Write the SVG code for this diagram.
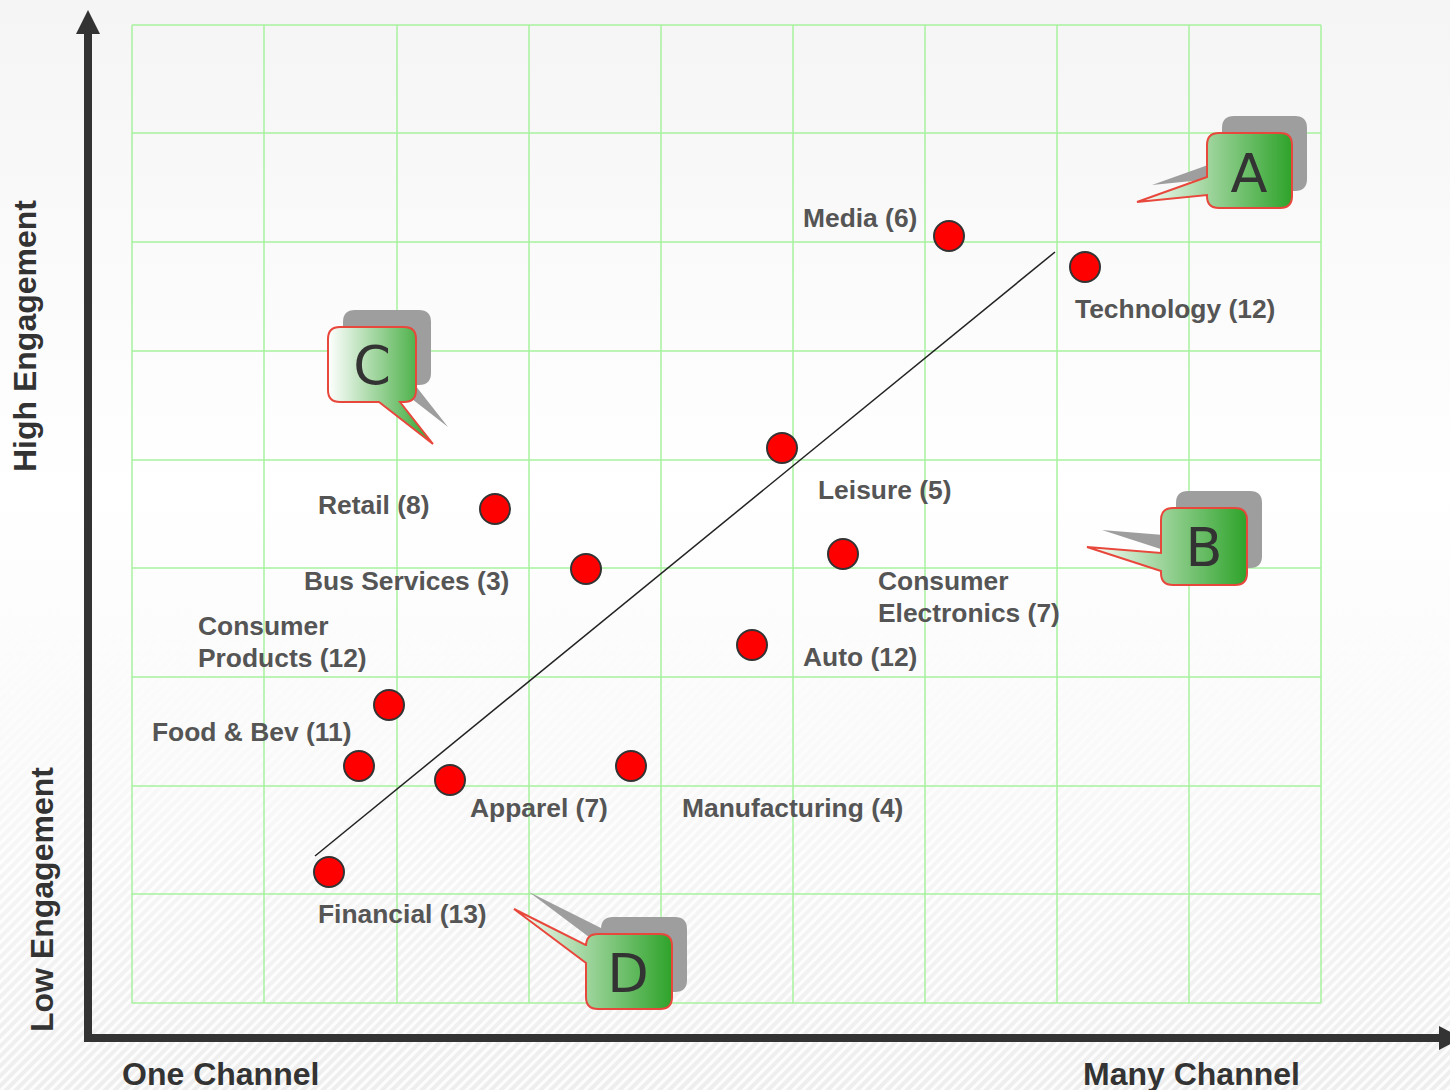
<svg xmlns="http://www.w3.org/2000/svg" width="1450" height="1090" viewBox="0 0 1450 1090">
<defs>
<linearGradient id="bg" x1="0" y1="0" x2="0" y2="1">
<stop offset="0" stop-color="#f5f5f5"/>
<stop offset="0.45" stop-color="#ffffff"/>
<stop offset="0.7" stop-color="#f9f9f9"/>
<stop offset="1" stop-color="#eeeeee"/>
</linearGradient>
<pattern id="stripes" width="7" height="7" patternUnits="userSpaceOnUse" patternTransform="rotate(-45)">
<rect width="7" height="3" fill="#ffffff"/>
</pattern>
<linearGradient id="fadeG" x1="0" y1="0" x2="0" y2="1">
<stop offset="0.55" stop-color="#000"/>
<stop offset="0.8" stop-color="#fff"/>
<stop offset="1" stop-color="#fff"/>
</linearGradient>
<mask id="fade"><rect width="1450" height="1090" fill="url(#fadeG)"/></mask>
<linearGradient id="cg" x1="0" y1="0" x2="1" y2="0">
<stop offset="0" stop-color="#ffffff"/>
<stop offset="1" stop-color="#2ea32a"/>
</linearGradient>
</defs>
<style>
.grid line{stroke:#a6f29c;stroke-width:1.5}
.dot{fill:#ff0000;stroke:#333;stroke-width:2}
.lbl{font-family:"Liberation Sans",Arial,sans-serif;font-weight:bold;font-size:26.4px;fill:#555}
.ax{font-family:"Liberation Sans",Arial,sans-serif;font-weight:bold;font-size:32px;fill:#333}
.shadow{fill:#9e9e9e}
.bubble{fill:url(#cg);stroke:#e8473c;stroke-width:2}
.letter{font-family:"DejaVu Sans",sans-serif;font-size:54px;fill:#333;text-anchor:middle}
</style>
<rect width="1450" height="1090" fill="url(#bg)"/>
<rect width="1450" height="1090" fill="url(#stripes)" mask="url(#fade)" opacity="0.9"/>

<g id="grid" class="grid">
<line x1="132" y1="25" x2="132" y2="1003"/>
<line x1="264" y1="25" x2="264" y2="1003"/>
<line x1="397" y1="25" x2="397" y2="1003"/>
<line x1="529" y1="25" x2="529" y2="1003"/>
<line x1="661" y1="25" x2="661" y2="1003"/>
<line x1="793" y1="25" x2="793" y2="1003"/>
<line x1="925" y1="25" x2="925" y2="1003"/>
<line x1="1057" y1="25" x2="1057" y2="1003"/>
<line x1="1189" y1="25" x2="1189" y2="1003"/>
<line x1="1321" y1="25" x2="1321" y2="1003"/>
<line x1="132" y1="25" x2="1321" y2="25"/>
<line x1="132" y1="133" x2="1321" y2="133"/>
<line x1="132" y1="242" x2="1321" y2="242"/>
<line x1="132" y1="351" x2="1321" y2="351"/>
<line x1="132" y1="460" x2="1321" y2="460"/>
<line x1="132" y1="568" x2="1321" y2="568"/>
<line x1="132" y1="677" x2="1321" y2="677"/>
<line x1="132" y1="786" x2="1321" y2="786"/>
<line x1="132" y1="894" x2="1321" y2="894"/>
<line x1="132" y1="1003" x2="1321" y2="1003"/>
</g>

<g id="axes">
<path d="M88 1038 L88 30 M84 1038 L1442 1038" fill="none" stroke="#333" stroke-width="8"/>
<polygon points="88,10 76,34 100,34" fill="#333"/>
<polygon points="1462,1038 1439,1026 1439,1050" fill="#333"/>
</g>

<g id="connectors">
<line x1="315" y1="856" x2="1055" y2="252" stroke="#222" stroke-width="1.5"/>
</g>

<g id="points">
<circle class="dot" cx="949" cy="236" r="15"/>
<circle class="dot" cx="1085" cy="267" r="15"/>
<circle class="dot" cx="782" cy="448" r="15"/>
<circle class="dot" cx="495" cy="509" r="15"/>
<circle class="dot" cx="586" cy="569" r="15"/>
<circle class="dot" cx="843" cy="554" r="15"/>
<circle class="dot" cx="752" cy="645" r="15"/>
<circle class="dot" cx="389" cy="705" r="15"/>
<circle class="dot" cx="359" cy="766" r="15"/>
<circle class="dot" cx="450" cy="780" r="15"/>
<circle class="dot" cx="631" cy="766" r="15"/>
<circle class="dot" cx="329" cy="872" r="15"/>
</g>

<g id="labels">
<text class="lbl" x="803" y="227">Media (6)</text>
<text class="lbl" x="1075" y="318">Technology (12)</text>
<text class="lbl" x="818" y="499">Leisure (5)</text>
<text class="lbl" x="318" y="514">Retail (8)</text>
<text class="lbl" x="304" y="590">Bus Services (3)</text>
<text class="lbl" x="878" y="590">Consumer</text>
<text class="lbl" x="878" y="622">Electronics (7)</text>
<text class="lbl" x="198" y="635">Consumer</text>
<text class="lbl" x="198" y="667">Products (12)</text>
<text class="lbl" x="803" y="666">Auto (12)</text>
<text class="lbl" x="152" y="741">Food &amp; Bev (11)</text>
<text class="lbl" x="470" y="817">Apparel (7)</text>
<text class="lbl" x="682" y="817">Manufacturing (4)</text>
<text class="lbl" x="318" y="923">Financial (13)</text>
</g>

<g id="axis-labels">
<text class="ax" x="122" y="1085">One Channel</text>
<text class="ax" x="1083" y="1085">Many Channel</text>
<text class="ax" transform="translate(36,472) rotate(-90)">High Engagement</text>
<text class="ax" transform="translate(53,1032) rotate(-90)">Low Engagement</text>
</g>

<g id="callout-A">
<path class="shadow" transform="translate(15,-17)" d="M1219 133 H1280 Q1292 133 1292 145 V196 Q1292 208 1280 208 H1219 Q1207 208 1207 196 V195 L1137 202 L1207 177 V145 Q1207 133 1219 133 Z"/>
<path class="bubble" d="M1219 133 H1280 Q1292 133 1292 145 V196 Q1292 208 1280 208 H1219 Q1207 208 1207 196 V195 L1137 202 L1207 177 V145 Q1207 133 1219 133 Z"/>
<text class="letter" x="1249" y="192">A</text>
</g>

<g id="callout-B">
<path class="shadow" transform="translate(15,-17)" d="M1173 508 H1235 Q1247 508 1247 520 V573 Q1247 585 1235 585 H1173 Q1161 585 1161 573 V571 L1087 547 L1161 553 V520 Q1161 508 1173 508 Z"/>
<path class="bubble" d="M1173 508 H1235 Q1247 508 1247 520 V573 Q1247 585 1235 585 H1173 Q1161 585 1161 573 V571 L1087 547 L1161 553 V520 Q1161 508 1173 508 Z"/>
<text class="letter" x="1204" y="566">B</text>
</g>

<g id="callout-C">
<path class="shadow" transform="translate(15,-17)" d="M340 327 H404 Q416 327 416 339 V390 Q416 402 404 402 H400 L433 444 L379 402 H340 Q328 402 328 390 V339 Q328 327 340 327 Z"/>
<path class="bubble" d="M340 327 H404 Q416 327 416 339 V390 Q416 402 404 402 H400 L433 444 L379 402 H340 Q328 402 328 390 V339 Q328 327 340 327 Z"/>
<text class="letter" x="372" y="384">C</text>
</g>

<g id="callout-D">
<path class="shadow" transform="translate(15,-17)" d="M598 934 H660 Q672 934 672 946 V997 Q672 1009 660 1009 H598 Q586 1009 586 997 V963 L514 909 L586 945 V946 Q586 934 598 934 Z"/>
<path class="bubble" d="M598 934 H660 Q672 934 672 946 V997 Q672 1009 660 1009 H598 Q586 1009 586 997 V963 L514 909 L586 945 V946 Q586 934 598 934 Z"/>
<text class="letter" x="628" y="992">D</text>
</g>
</svg>
